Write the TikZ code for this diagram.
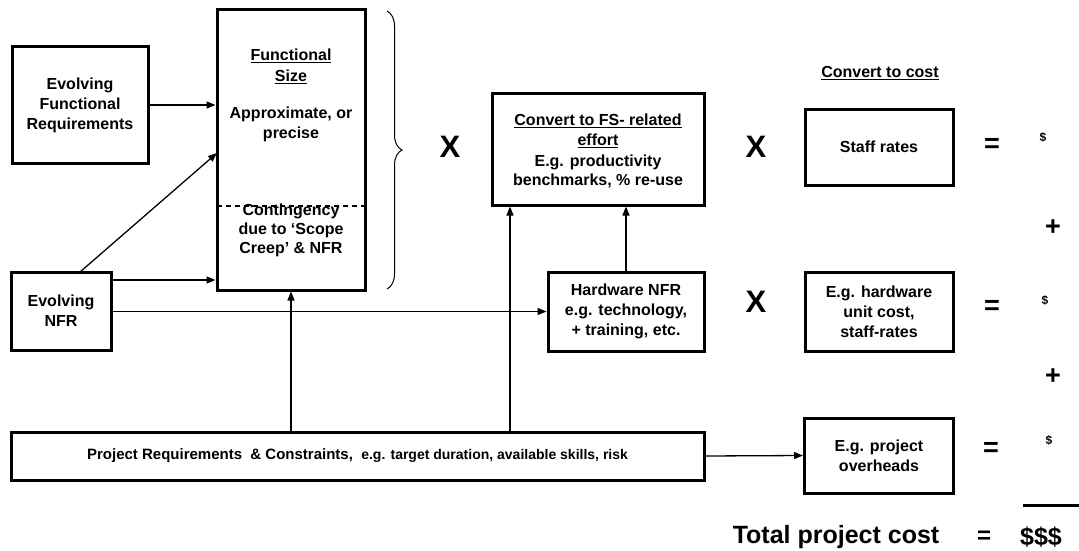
\documentclass[tikz,border=0pt]{standalone}
\usepackage{fontspec}
\setmainfont{Liberation Sans}
\usetikzlibrary{arrows.meta,decorations.pathreplacing,calc}
\begin{document}
\begin{tikzpicture}[x=1pt,y=-1pt,
  box/.style={draw, line width=3pt, align=center, font=\fontsize{16}{20}\selectfont\bfseries, inner sep=2pt},
  lbl/.style={align=center, font=\fontsize{16}{20}\selectfont\bfseries, inner sep=0pt},
  arr/.style={line width=1.3pt, -{Triangle[length=9pt,width=7pt]}},
  conn/.style={line width=1.3pt},
  bigop/.style={font=\fontsize{31}{31}\selectfont\bfseries, inner sep=0pt},
  eqop/.style={font=\fontsize{27}{27}\selectfont\bfseries, inner sep=0pt},
  dollar/.style={font=\fontsize{12}{12}\selectfont\bfseries, inner sep=0pt}]
\useasboundingbox (0,0) rectangle (1079,551);

% boxes
\node[box, minimum width=136pt, minimum height=116pt] (efr) at (80,105) {Evolving\\Functional\\Requirements};
\node[box, minimum width=148pt, minimum height=280pt] (fs) at (291,150) {};
\node[box, minimum width=100pt, minimum height=78pt] (evnfr) at (61,311) {Evolving\\NFR};
\node[box, minimum width=212pt, minimum height=112pt] (conv) at (598,149) {};
\node[box, minimum width=156pt, minimum height=79pt] (hw) at (626,311.5) {Hardware NFR\\e.g. technology,\\+ training, etc.};
\node[box, minimum width=148pt, minimum height=76pt] (staff) at (879,147) {Staff rates};
\node[box, minimum width=148pt, minimum height=79pt] (hwc) at (879,311.5) {E.g. hardware\\unit cost,\\staff-rates};
\node[box, minimum width=149pt, minimum height=75pt] (ovh) at (879,455.5) {E.g. project\\overheads};
\node[box, minimum width=693pt, minimum height=48pt] (proj) at (357.5,456) {\fontsize{15}{18}\selectfont Project Requirements \ \& Constraints, \ {\fontsize{14}{18}\selectfont e.g. target duration, available skills, risk}};

% texts inside functional size box
\node[lbl, font=\fontsize{16}{21}\selectfont\bfseries] (fstitle) at (291,66) {\underline{Functional}\\\underline{Size}};
\node[lbl] (fsapprox) at (291,124) {Approximate, or\\precise};
\node[lbl, font=\fontsize{16}{19}\selectfont\bfseries] (fscont) at (291,230) {Contingency\\due to ‘Scope\\Creep’ \& NFR};
\coordinate (d1) at (217,206);
\coordinate (d2) at (365,206);
\draw[line width=1.3pt, dash pattern=on 5pt off 4pt] (d1) -- (d2);

% texts inside convert box
\node[lbl] (convtitle) at (598,131) {\underline{Convert to FS- related}\\\underline{effort}};
\node[lbl, font=\fontsize{16}{19}\selectfont\bfseries] (convtext) at (598,171) {E.g. productivity\\benchmarks, \% re-use};

% brace
\coordinate (b1) at (387,11);
\coordinate (b2) at (387,289);
\draw[line width=1pt, decorate, decoration={brace, amplitude=15pt}] (b1) -- (b2);

% headings and operators
\node[lbl] (cost) at (880,73) {\underline{Convert to cost}};
\node[bigop] (x1) at (450,147) {X};
\node[bigop] (x2) at (756,147) {X};
\node[bigop] (x3) at (756,302) {X};
\node[eqop] (e1) at (992,145) {=};
\node[eqop] (e2) at (992,307) {=};
\node[eqop] (e3) at (991,449) {=};
\node[dollar] (s1) at (1043,137) {\$};
\node[dollar] (s2) at (1045,300) {\$};
\node[dollar] (s3) at (1049,440) {\$};
\node[eqop] (p1) at (1053,228) {+};
\node[eqop] (p2) at (1053,377) {+};

\coordinate (t1) at (1023,505);
\coordinate (t2) at (1079,505);
\draw[line width=3pt] (t1) -- (t2);
\node[font=\fontsize{25}{25}\selectfont\bfseries, inner sep=0pt] (total) at (836,537) {Total project cost};
\node[font=\fontsize{24}{24}\selectfont\bfseries, inner sep=0pt] (teq) at (984,537) {=};
\node[font=\fontsize{25}{25}\selectfont\bfseries, inner sep=0pt] (tdol) at (1041,537) {\$\$\$};

% connectors
\draw[arr] (efr.east) -- (fs.west |- efr.east);
\coordinate (nfrtop) at (80,272);
\coordinate (fsin) at (217,153);
\draw[arr] (nfrtop) -- (fsin);
\draw[arr] (evnfr.east |- 0,280) -- (fs.west |- 0,280);
\draw[arr] (evnfr.east |- hw.west) -- (hw.west);
\draw[arr] (hw.north) -- (hw.north |- conv.south);
\draw[arr] (proj.north -| fs.south) -- (fs.south);
\draw[arr] (proj.north -| 510,0) -- (conv.south -| 510,0);
\draw[arr] (proj.east) -- (ovh.west);
\end{tikzpicture}
\end{document}
